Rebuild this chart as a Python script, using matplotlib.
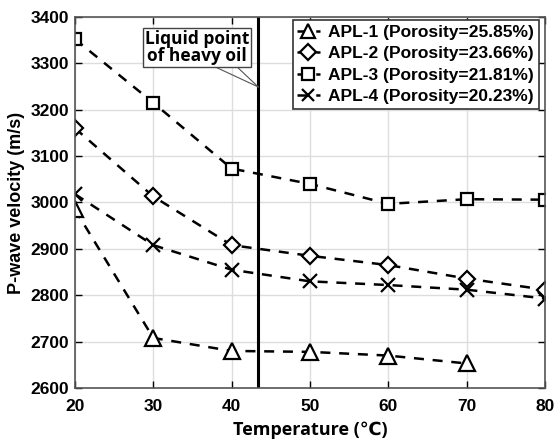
import matplotlib
matplotlib.use("Agg")
import matplotlib.pyplot as plt

temps = [20, 30, 40, 50, 60, 70, 80]
apl1 = [2985, 2708, 2680, 2678, 2670, 2653]
apl2 = [3160, 3013, 2908, 2885, 2865, 2836, 2812]
apl3 = [3352, 3215, 3073, 3040, 2997, 3007, 3006]
apl4 = [3018, 2908, 2855, 2830, 2822, 2812, 2793]
labels = ["APL-1 (Porosity=25.85%)", "APL-2 (Porosity=23.66%)",
          "APL-3 (Porosity=21.81%)", "APL-4 (Porosity=20.23%)"]
liquid_point = 43.4

plt.rcParams['font.family'] = ['Liberation Sans', 'DejaVu Sans']
fig = plt.figure(figsize=(5.55, 4.44), dpi=100)
ax = fig.add_axes([0.135, 0.126, 0.847, 0.836])

common = dict(color='black', linestyle=(0, (4, 3.5)), linewidth=1.8,
              markerfacecolor='white', markeredgecolor='black', markersize=11, markeredgewidth=1.6)
ax.plot(temps[:len(apl1)], apl1, marker='^', label=labels[0], **common)
ax.plot(temps, apl2, marker='D', label=labels[1], **{**common, 'markersize': 8.5})
ax.plot(temps, apl3, marker='s', label=labels[2], **{**common, 'markersize': 9})
ax.plot(temps, apl4, marker='x', label=labels[3], **{**common, 'markersize': 9.5})

ax.axvline(liquid_point, color='black', linewidth=2.2)
ax.text(35.6, 3334, "Liquid point\nof heavy oil",
        ha='center', va='center', fontsize=12.5, fontweight='bold', family=['Open Sans', 'DejaVu Sans'],
        linespacing=0.95,
        bbox=dict(boxstyle='square,pad=0.12', fc='white', ec='#444444', lw=1), zorder=5)
ax.plot([liquid_point, 36.9], [3249, 3300], color='#555555', lw=0.8, zorder=4)
ax.plot([liquid_point, 40.2], [3249, 3300], color='#555555', lw=0.8, zorder=4)

ax.set_xlim(20, 80)
ax.set_ylim(2600, 3400)
ax.set_xticks(temps)
ax.set_yticks(range(2600, 3401, 100))
ax.grid(True, color='#dddddd', linewidth=1)
ax.tick_params(direction='in', top=True, right=True, length=5, width=1, labelsize=12.5)
for lab in ax.get_xticklabels() + ax.get_yticklabels():
    lab.set_fontweight('bold')
ax.tick_params(axis='x', pad=8)
ax.tick_params(axis='y', pad=4)
for s in ax.spines.values():
    s.set_color('#555555')
    s.set_linewidth(1.2)

ax.set_xlabel("Temperature (℃)", fontsize=13, fontweight='bold', family=['Open Sans', 'DejaVu Sans'], labelpad=5)
ax.set_ylabel("P-wave velocity (m/s)", fontsize=13, fontweight='bold', labelpad=4)

leg = ax.legend(loc='upper right', bbox_to_anchor=(0.99, 0.995), borderaxespad=0.1,
                prop={'weight': 'bold', 'size': 12.5},
                handlelength=1.3, handletextpad=0.5, borderpad=0.25, labelspacing=0.36,
                fancybox=False, framealpha=1, edgecolor='#333333', markerscale=0.9)
leg.get_frame().set_linewidth(1.2)

fig.savefig("out.png", dpi=100)
